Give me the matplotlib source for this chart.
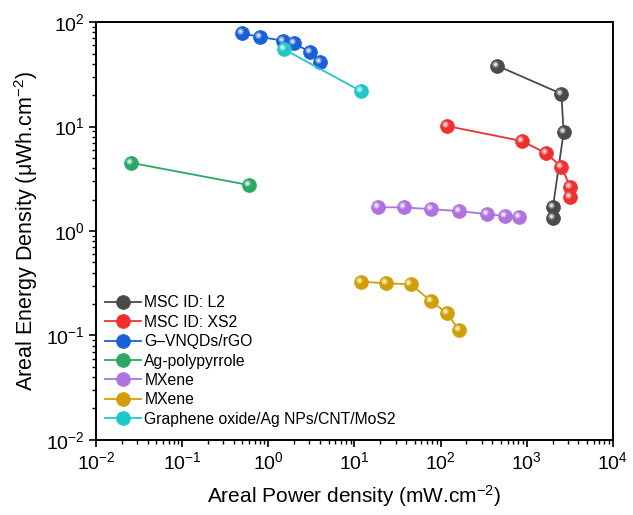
import matplotlib
matplotlib.use("Agg")
import matplotlib.pyplot as plt
import matplotlib.transforms as mtransforms

plt.rcParams['font.family'] = ['Liberation Sans', 'DejaVu Sans']
plt.rcParams['mathtext.default'] = 'regular'

labels = ["MSC ID: L2", "MSC ID: XS2", "G\u2013VNQDs/rGO", "Ag-polypyrrole",
          "MXene", "MXene", "Graphene oxide/Ag NPs/CNT/MoS2"]
colors = ["#4a4a4a", "#f03030", "#1a5fd8", "#2ca866", "#b072e0", "#d29e08", "#1ec8c8"]

l2_x = [457, 2530, 2690, 2020, 2020]
l2_y = [38.2, 20.6, 8.86, 1.69, 1.32]

xs2_x = [120, 881, 1693, 2530, 3210, 3230]
xs2_y = [10.1, 7.27, 5.54, 4.12, 2.65, 2.10]

vnqd_x = [0.498, 0.80, 1.49, 1.98, 3.04, 3.97]
vnqd_y = [78, 72.3, 66.3, 62.5, 52, 41.7]

ppy_x = [0.0252, 0.60]
ppy_y = [4.5, 2.75]

mx1_x = [18.8, 37.7, 76.9, 163, 346, 566, 814]
mx1_y = [1.69, 1.68, 1.62, 1.55, 1.45, 1.39, 1.35]

mx2_x = [11.8, 23.1, 44.8, 76.9, 119, 164]
mx2_y = [0.327, 0.316, 0.309, 0.214, 0.163, 0.112]

go_x = [1.53, 11.8]
go_y = [54.8, 21.9]

series = [(l2_x, l2_y), (xs2_x, xs2_y), (vnqd_x, vnqd_y), (ppy_x, ppy_y),
          (mx1_x, mx1_y), (mx2_x, mx2_y), (go_x, go_y)]

fig = plt.figure(figsize=(6.33, 5.15), dpi=100)
ax = fig.add_axes([0.152, 0.146, 0.816, 0.811])

# small offset for the glossy highlight on each ball
shift = mtransforms.ScaledTranslation(-1.5 / 72, 1.5 / 72, fig.dpi_scale_trans)

for (x, y), c, lab in zip(series, colors, labels):
    ax.plot(x, y, '-o', color=c, lw=1.3, ms=10, mec=c, mew=0.5, label=lab)
    ax.plot(x, y, 'o', color='white', alpha=0.45, ms=4.5, mew=0,
            transform=ax.transData + shift)
    ax.plot(x, y, 'o', color='white', alpha=0.8, ms=2, mew=0,
            transform=ax.transData + shift)

ax.set_xscale('log')
ax.set_yscale('log')
ax.set_xlim(1e-2, 1e4)
ax.set_ylim(1e-2, 1e2)

ax.tick_params(which='both', direction='out', top=False, right=False, labelsize=14)
ax.tick_params(which='major', length=5, width=1.2)
ax.tick_params(which='minor', length=3, width=1)
for s in ax.spines.values():
    s.set_linewidth(1.4)

ax.set_xlabel("Areal Power density (mW.cm$^{-2}$)", fontsize=15, labelpad=7)
ax.set_ylabel("Areal Energy Density (\u03bcWh.cm$^{-2}$)", fontsize=15.5, labelpad=4)

ax.legend(loc='lower left', bbox_to_anchor=(-0.004, 0.005), frameon=False, fontsize=11.3,
          handlelength=2.3, handletextpad=0.2, labelspacing=0.28, borderaxespad=0.3)

fig.savefig("out.png", dpi=100)
